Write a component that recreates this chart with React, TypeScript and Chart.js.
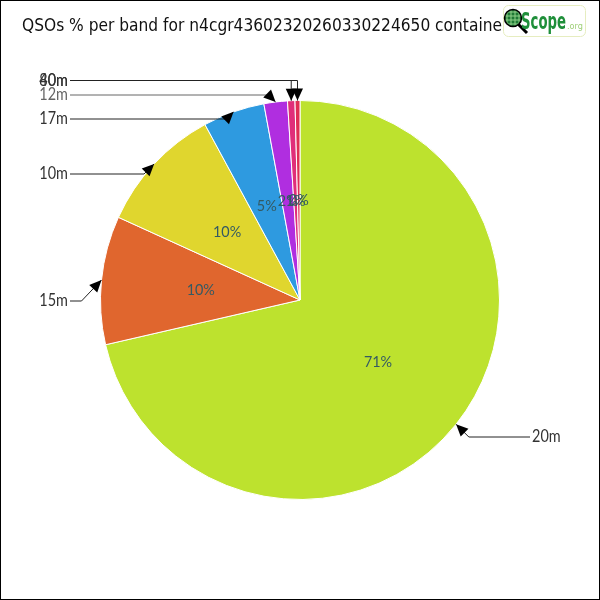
import React, { useEffect, useRef } from 'react';
import { Chart, registerables } from 'chart.js';

Chart.register(...registerables);

const bands = ['20m', '15m', '10m', '17m', '12m', '40m', '80m'];
const qsoCounts = [714, 104, 103, 50, 19, 6, 4];
const bandColors = ['#bde22e', '#e0662e', '#e0d62e', '#2e9ae0', '#b02ee0', '#e02e7a', '#e02e54'];
const titleText = 'QSOs % per band for n4cgr43602320260330224650 container';

// callout label rows (layout only): side and y of the label row
const calloutLayout: Record<string, { side: number; y: number; vertical?: boolean; color?: string }> = {
  '20m': { side: 1, y: 437 },
  '15m': { side: -1, y: 301 },
  '10m': { side: -1, y: 174 },
  '17m': { side: -1, y: 119 },
  '12m': { side: -1, y: 95, color: '#666' },
  '40m': { side: -1, y: 80.5, vertical: true },
  '80m': { side: -1, y: 80.5, vertical: true },
};

const LABEL_FONT = '17px Lato, "DejaVu Sans", sans-serif';
const PCT_FONT = '16px Lato, "DejaVu Sans", sans-serif';

function fillScaled(ctx: CanvasRenderingContext2D, text: string, x: number, y: number, sx: number, align: 'left' | 'right') {
  const w = ctx.measureText(text).width * sx;
  const left = align === 'left' ? x : x - w;
  ctx.save();
  ctx.translate(left, y);
  ctx.scale(sx, 1);
  ctx.textAlign = 'left';
  ctx.fillText(text, 0, 0);
  ctx.restore();
}

const decorPlugin = {
  id: 'decor',
  afterDatasetsDraw(chart: any) {
    const ctx = chart.ctx as CanvasRenderingContext2D;
    const meta = chart.getDatasetMeta(0);
    const data = chart.data.datasets[0].data as number[];
    const total = data.reduce((a, b) => a + b, 0);
    ctx.save();
    // percent labels inside slices
    ctx.font = PCT_FONT;
    ctx.fillStyle = '#345a63';
    ctx.textBaseline = 'middle';
    meta.data.forEach((arc: any, i: number) => {
      const p = arc.getProps(['x', 'y', 'startAngle', 'endAngle', 'outerRadius'], true);
      const mid = (p.startAngle + p.endAngle) / 2;
      const r = p.outerRadius * 0.5;
      const pct = Math.round((data[i] / total) * 100) + '%';
      const cx = p.x + Math.cos(mid) * r;
      const cy = p.y + Math.sin(mid) * r;
      const w = ctx.measureText(pct).width * 0.9;
      fillScaled(ctx, pct, cx - w / 2, cy, 0.9, 'left');
    });
    // callouts
    meta.data.forEach((arc: any, i: number) => {
      const lab = chart.data.labels[i];
      const lay = calloutLayout[lab];
      if (!lay) return;
      const p = arc.getProps(['x', 'y', 'startAngle', 'endAngle', 'outerRadius'], true);
      const mid = (p.startAngle + p.endAngle) / 2;
      const tx = p.x + Math.cos(mid) * p.outerRadius;
      const ty = p.y + Math.sin(mid) * p.outerRadius;
      const dy = lay.y - ty;
      const ex = lay.vertical ? tx : tx + lay.side * Math.min(Math.abs(dy), 20);
      const ey = lay.y;
      const endX = lay.side < 0 ? 70 : 530;
      const col = lay.color || '#222';
      ctx.strokeStyle = col;
      ctx.lineWidth = 1;
      ctx.beginPath();
      ctx.moveTo(endX, ey);
      ctx.lineTo(ex, ey);
      ctx.lineTo(tx, ty);
      ctx.stroke();
      // arrowhead
      const ang = Math.atan2(ty - ey, tx - ex);
      const len = 12;
      const w = 5.5;
      const bx = tx - Math.cos(ang) * len;
      const by = ty - Math.sin(ang) * len;
      ctx.fillStyle = '#000';
      ctx.beginPath();
      ctx.moveTo(tx, ty);
      ctx.lineTo(bx + Math.sin(ang) * w, by - Math.cos(ang) * w);
      ctx.lineTo(bx - Math.sin(ang) * w, by + Math.cos(ang) * w);
      ctx.closePath();
      ctx.fill();
      // label text
      ctx.font = LABEL_FONT;
      ctx.fillStyle = lay.color || '#333';
      ctx.textBaseline = 'middle';
      fillScaled(ctx, lab, lay.side < 0 ? endX - 2 : endX + 2, ey, 0.85, lay.side < 0 ? 'right' : 'left');
    });
    ctx.restore();
  },
  afterDraw(chart: any) {
    const ctx = chart.ctx as CanvasRenderingContext2D;
    ctx.save();
    // title, fitted so that "...containe" reaches the logo
    ctx.font = '17px "DejaVu Sans", sans-serif';
    ctx.fillStyle = '#111';
    ctx.textBaseline = 'alphabetic';
    const visible = titleText.slice(0, titleText.length - 1);
    const sx = 480 / ctx.measureText(visible).width;
    fillScaled(ctx, titleText, 22, 31, sx, 'left');
    // logo
    ctx.fillStyle = '#fff';
    ctx.strokeStyle = '#e6edc0';
    ctx.lineWidth = 1;
    ctx.beginPath();
    (ctx as any).roundRect(503.5, 5.5, 82, 31, 5);
    ctx.fill();
    ctx.stroke();
    ctx.strokeStyle = '#000';
    ctx.lineWidth = 3;
    ctx.beginPath();
    ctx.moveTo(518, 24);
    ctx.lineTo(527, 33);
    ctx.stroke();
    ctx.fillStyle = '#1f7a35';
    ctx.beginPath();
    ctx.arc(513, 18, 8.5, 0, Math.PI * 2);
    ctx.fill();
    ctx.save();
    ctx.clip();
    ctx.strokeStyle = '#8fd08a';
    ctx.lineWidth = 1;
    for (let k = -6; k <= 6; k += 4) {
      ctx.beginPath();
      ctx.moveTo(513 + k, 9);
      ctx.lineTo(513 + k, 27);
      ctx.moveTo(504, 18 + k);
      ctx.lineTo(522, 18 + k);
      ctx.stroke();
    }
    ctx.restore();
    ctx.strokeStyle = '#000';
    ctx.lineWidth = 1.5;
    ctx.beginPath();
    ctx.arc(513, 18, 8.5, 0, Math.PI * 2);
    ctx.stroke();
    ctx.fillStyle = '#1f8f3a';
    ctx.font = 'bold 23px "DejaVu Sans", sans-serif';
    ctx.textBaseline = 'alphabetic';
    const sw = ctx.measureText('Scope').width;
    fillScaled(ctx, 'Scope', 521, 29, 45 / sw, 'left');
    ctx.fillStyle = '#9fcf78';
    ctx.font = '9px "DejaVu Sans", sans-serif';
    const ow = ctx.measureText('.org').width;
    fillScaled(ctx, '.org', 567, 29, 16 / ow, 'left');
    // border
    ctx.strokeStyle = '#000';
    ctx.lineWidth = 1;
    ctx.strokeRect(0.5, 0.5, 599, 599);
    ctx.restore();
  },
};

export default function App() {
  const ref = useRef<HTMLCanvasElement>(null);
  useEffect(() => {
    document.body.style.margin = '0';
    const chart = new Chart(ref.current!, {
      type: 'pie',
      data: {
        labels: bands,
        datasets: [
          {
            data: qsoCounts,
            backgroundColor: bandColors,
            borderColor: '#ffffff',
            borderWidth: 1,
          },
        ],
      },
      options: {
        responsive: false,
        animation: false,
        layout: { padding: 100 },
        plugins: {
          legend: { display: false },
          title: { display: false },
          tooltip: { enabled: false },
        },
      },
      plugins: [decorPlugin],
    });
    return () => chart.destroy();
  }, []);
  return (
    <div style={{ width: 600, height: 600, background: '#fff' }}>
      <canvas ref={ref} width={600} height={600} style={{ display: 'block' }} />
    </div>
  );
}
